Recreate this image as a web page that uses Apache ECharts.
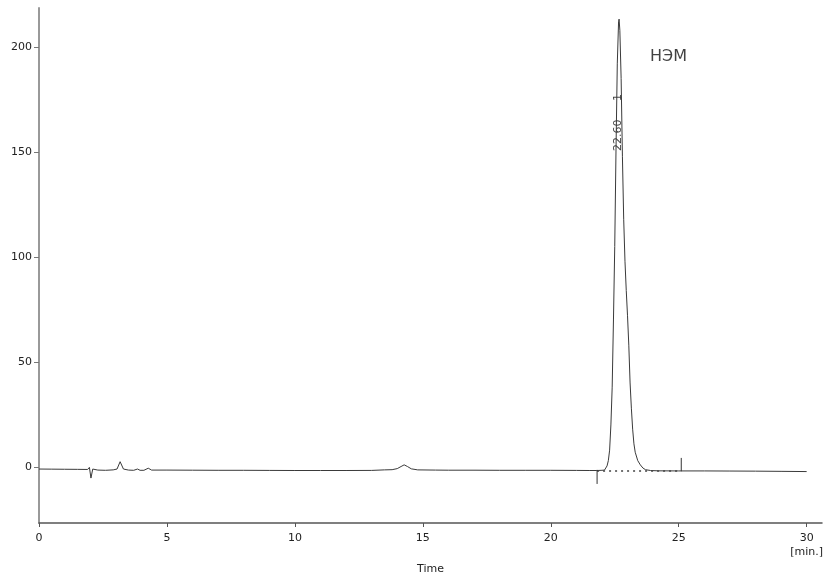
<!DOCTYPE html>
<html>
<head>
<meta charset="utf-8">
<script src="https://cdn.jsdelivr.net/npm/echarts@6/dist/echarts.min.js"></script>
<style>
  html, body { margin: 0; padding: 0; background: #fff; }
  #chart { width: 827px; height: 574px; }
</style>
</head>
<body>
<div id="chart"></div>
<script>
// время, мин
var timeMin = [
  0, 0.5, 1.0, 1.5, 1.9, 1.97, 2.03, 2.1, 2.3, 2.6, 2.9, 3.05, 3.17, 3.3, 3.5, 3.7, 3.85, 3.95, 4.1, 4.27, 4.4,
  5, 6, 7, 8, 9, 10, 11, 12, 13, 13.5, 13.8, 14.0, 14.15, 14.27, 14.4, 14.55, 14.8, 15.5,
  16, 17, 18, 19, 20, 21, 21.5, 21.8, 22.0, 22.1, 22.2, 22.25, 22.3, 22.35, 22.4, 22.45, 22.5, 22.55,
  22.6, 22.65, 22.67, 22.7, 22.75, 22.8, 22.85, 22.9, 22.95, 23.0, 23.05, 23.1, 23.15, 23.2, 23.25,
  23.3, 23.4, 23.5, 23.6, 23.7, 23.9, 24.2, 25, 26, 27, 28, 29, 30
];
// сигнал детектора
var signal = [
  -1.0, -1.05, -1.1, -1.15, -1.2, -0.2, -5.3, -1.0, -1.5, -1.6, -1.4, -1.0, 2.5, -1.0, -1.5, -1.6, -1.0, -1.6, -1.6, -0.6, -1.5,
  -1.5, -1.55, -1.6, -1.6, -1.65, -1.7, -1.7, -1.7, -1.65, -1.4, -1.3, -0.8, 0.2, 1.0, 0.2, -0.9, -1.4, -1.5,
  -1.55, -1.55, -1.6, -1.6, -1.6, -1.65, -1.7, -1.7, -1.6, -1.5, 0.5, 3, 8, 20, 38, 70, 105, 151,
  192, 212, 213.3, 208, 185, 148, 118, 98, 84, 72, 58, 40, 28, 18, 11,
  7, 3, 1, -0.5, -1.3, -1.7, -1.85, -1.9, -1.9, -1.95, -2.0, -2.1, -2.2
];
var xTicks = [0, 5, 10, 15, 20, 25, 30];
var yTicks = [0, 50, 100, 150, 200];

// интегрирование пика
var baseStart = [21.81, -1.9];
var baseEnd = [25.1, -1.9];
var peakTime = '22.60';
var peakNo = '1';
var peakName = 'НЭМ';

var line = timeMin.map(function (t, i) { return [t, signal[i]]; });

var chart = echarts.init(document.getElementById('chart'));

var labelFont = { fontFamily: 'DejaVu Sans', fontSize: 11, color: '#222' };

chart.setOption({
  animation: false,
  backgroundColor: '#fff',
  grid: { left: 39, right: 5, top: 8, bottom: 51, containLabel: false, outerBoundsMode: 'none' },
  xAxis: {
    type: 'value',
    min: 0,
    max: 30.6,
    name: 'Time',
    nameLocation: 'middle',
    nameGap: 38,
    nameTextStyle: labelFont,
    splitLine: { show: false },
    axisLine: { onZero: false, lineStyle: { color: '#555', width: 1.5 } },
    axisTick: { length: 4, customValues: xTicks, lineStyle: { color: '#555' } },
    axisLabel: {
      customValues: xTicks,
      margin: 8,
      fontFamily: 'DejaVu Sans',
      fontSize: 11,
      color: '#222',
      lineHeight: 14,
      formatter: function (v) { return v === 30 ? '30\n[min.]' : String(v); }
    }
  },
  yAxis: {
    type: 'value',
    min: -26.7,
    max: 218.6,
    splitLine: { show: false },
    axisLine: { show: true, onZero: false, lineStyle: { color: '#999', width: 2 } },
    axisTick: { show: true, length: 5, customValues: yTicks, lineStyle: { color: '#777' } },
    axisLabel: {
      customValues: yTicks,
      margin: 7,
      fontFamily: 'DejaVu Sans',
      fontSize: 11,
      color: '#222'
    }
  },
  series: [
    {
      type: 'line',
      data: line,
      symbol: 'none',
      lineStyle: { color: '#3a3a3a', width: 1 }
    },
    {
      // базовая линия
      type: 'line',
      data: [baseStart, baseEnd],
      symbol: 'none',
      lineStyle: { color: '#444', width: 1.5, type: [2, 4] }
    },
    {
      type: 'line',
      data: [[baseStart[0], -1.4], [baseStart[0], -8.1]],
      symbol: 'none',
      lineStyle: { color: '#333', width: 1 }
    },
    {
      type: 'line',
      data: [[baseEnd[0], -2.0], [baseEnd[0], 4.3]],
      symbol: 'none',
      lineStyle: { color: '#333', width: 1 }
    },
    {
      type: 'scatter',
      symbolSize: 0,
      silent: true,
      data: [
        { value: [22.62, 158], label: { formatter: peakTime } },
        { value: [22.62, 176], label: { formatter: peakNo } }
      ],
      label: {
        show: true,
        position: 'inside',
        rotate: 90,
        fontFamily: 'DejaVu Sans',
        fontSize: 11,
        color: '#111'
      }
    },
    {
      type: 'scatter',
      symbolSize: 0,
      silent: true,
      data: [[24.6, 195.5]],
      label: {
        show: true,
        position: 'inside',
        formatter: peakName,
        fontFamily: 'DejaVu Sans',
        fontSize: 16,
        color: '#111'
      }
    }
  ]
});
</script>
</body>
</html>
